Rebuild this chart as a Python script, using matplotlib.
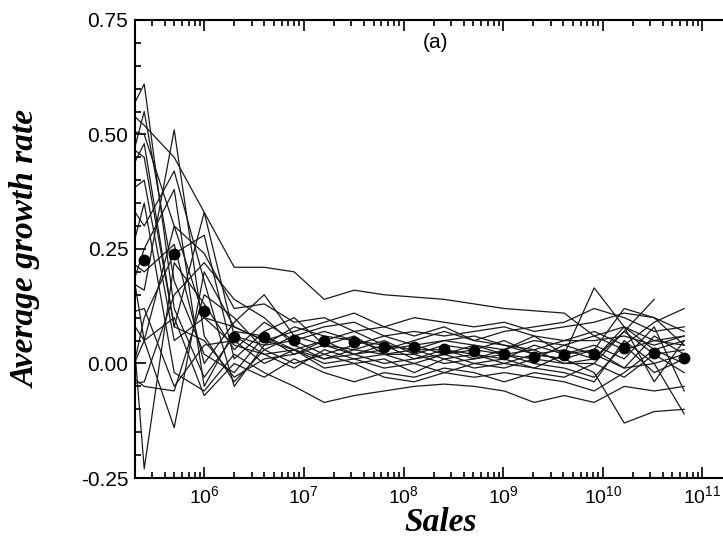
import numpy as np
import matplotlib
matplotlib.use("Agg")
import matplotlib.pyplot as plt
from matplotlib.ticker import LogLocator, MultipleLocator, NullFormatter

plt.rcParams['mathtext.fontset'] = 'custom'
plt.rcParams['mathtext.rm'] = 'Liberation Sans'
plt.rcParams['mathtext.it'] = 'Liberation Sans:italic'
plt.rcParams['mathtext.bf'] = 'Liberation Sans:bold'

# bin centres: sales doubling each bin, starting one bin left of the axis
sales_bins = 2.5e5 * 2.0 ** np.arange(-1, 19)

# average growth rate over all years (filled dots), bins 0..18
avg_sales = 2.5e5 * 2.0 ** np.arange(0, 19)
avg_growth = [0.225, 0.24, 0.114, 0.058, 0.058, 0.052, 0.048, 0.046, 0.037, 0.035,
              0.031, 0.028, 0.020, 0.015, 0.018, 0.020, 0.033, 0.022, 0.011]

# individual yearly curves (thin lines), one value per sales bin
years = [
    [0.48, 0.61, 0.12, -0.03, 0.06, 0.04, 0.05, 0.07, 0.05, 0.04, 0.03, 0.05, 0.04, 0.03, 0.05, 0.04, 0.06, 0.03, 0.05, 0.04],
    [0.60, -0.23, 0.22, 0.13, 0.03, 0.09, 0.05, 0.02, 0.04, 0.06, 0.04, 0.02, 0.03, 0.05, 0.02, 0.03, 0.01, 0.07, 0.02, 0.03],
    [0.20, 0.16, 0.51, 0.06, -0.04, 0.03, 0.06, 0.04, 0.02, 0.03, 0.05, 0.07, 0.05, 0.04, 0.02, 0.01, 0.03, -0.01, 0.06, 0.02],
    [0.58, 0.52, 0.45, 0.33, 0.21, 0.21, 0.20, 0.14, 0.16, 0.15, 0.145, 0.14, 0.13, 0.12, 0.115, 0.11, 0.06, 0.08, 0.05, 0.06],
    [0.10, 0.35, -0.02, -0.06, 0.02, -0.02, -0.05, -0.085, -0.07, -0.06, -0.05, -0.045, -0.05, -0.06, -0.085, -0.07, -0.085, -0.05, -0.06, -0.05],
    [0.35, 0.40, 0.05, 0.10, 0.04, 0.02, 0.03, 0.01, 0.02, 0.00, 0.01, 0.03, 0.02, 0.01, 0.04, 0.02, 0.165, 0.08, 0.03, 0.05],
    [0.05, 0.25, 0.38, -0.05, 0.07, 0.06, 0.02, 0.04, 0.03, 0.02, 0.03, 0.01, 0.02, 0.00, 0.02, 0.01, -0.02, -0.13, -0.105, -0.10],
    [-0.10, 0.05, -0.14, 0.20, 0.08, 0.05, 0.03, 0.00, 0.01, -0.01, 0.00, 0.02, 0.00, -0.01, 0.01, 0.00, 0.00, 0.07, 0.14, np.nan],
    [0.40, 0.30, 0.42, 0.18, -0.05, 0.04, 0.08, 0.06, 0.05, 0.03, 0.04, 0.05, 0.06, 0.04, 0.03, 0.05, 0.05, 0.06, 0.04, 0.06],
    [0.52, 0.50, 0.30, 0.24, 0.12, 0.13, 0.09, 0.10, 0.07, 0.08, 0.10, 0.09, 0.08, 0.09, 0.07, 0.08, 0.09, 0.11, 0.10, 0.07],
    [0.15, 0.05, 0.10, -0.07, 0.00, -0.03, 0.01, -0.02, -0.04, -0.02, -0.03, -0.01, -0.02, -0.04, -0.02, -0.03, 0.00, -0.03, 0.02, -0.02],
    [0.30, 0.55, 0.18, 0.02, -0.02, 0.06, 0.03, 0.05, 0.02, 0.04, 0.01, 0.02, 0.04, 0.02, 0.00, -0.01, -0.03, 0.04, -0.02, 0.01],
    [-0.20, 0.10, 0.24, 0.28, 0.01, 0.07, 0.10, 0.04, 0.06, 0.02, 0.02, 0.00, 0.01, 0.03, 0.06, 0.02, 0.04, 0.01, 0.08, -0.06],
    [0.00, -0.05, -0.06, 0.15, 0.10, 0.03, 0.00, 0.02, 0.00, 0.01, -0.02, 0.01, -0.01, 0.00, -0.01, -0.02, -0.04, 0.05, 0.00, -0.11],
    [0.50, 0.45, 0.08, 0.33, 0.06, 0.02, -0.01, 0.03, 0.01, 0.02, 0.00, -0.02, 0.00, 0.01, -0.01, 0.02, 0.03, 0.12, 0.10, 0.04],
    [0.25, 0.20, 0.26, 0.00, 0.09, 0.15, 0.06, 0.08, 0.09, 0.06, 0.07, 0.06, 0.07, 0.08, 0.06, 0.05, 0.07, 0.04, 0.09, 0.12],
    [-0.05, -0.04, 0.15, 0.22, 0.14, 0.10, 0.04, 0.01, 0.03, 0.05, 0.02, 0.04, 0.03, 0.02, 0.01, 0.04, 0.02, -0.01, 0.00, 0.02],
    [0.35, 0.48, 0.08, 0.05, -0.03, 0.01, 0.02, 0.05, 0.07, 0.04, 0.03, 0.03, 0.01, 0.02, 0.03, 0.00, 0.01, 0.08, -0.04, 0.05],
    [0.10, 0.12, -0.05, 0.04, 0.05, 0.00, 0.03, -0.01, 0.00, -0.03, -0.04, -0.02, -0.03, -0.02, -0.03, -0.04, -0.06, -0.02, 0.03, 0.00],
    [0.45, 0.05, 0.30, 0.10, 0.08, 0.05, 0.07, 0.09, 0.11, 0.08, 0.06, 0.08, 0.05, 0.07, 0.08, 0.09, 0.12, 0.10, 0.07, 0.08],
]
x_ticks = [1e6, 1e7, 1e8, 1e9, 1e10, 1e11]
x_ticklabels = ['$10^{6}$', '$10^{7}$', '$10^{8}$', '$10^{9}$', '$10^{10}$', '$10^{11}$']

fig = plt.figure(figsize=(7.23, 5.38), dpi=100)
# axes run past the right edge of the figure, as in the cropped original
ax = fig.add_axes([0.187, 0.1115, 0.837, 0.8515])

for vals in years:
    ax.plot(sales_bins, vals, color='#1a1a1a', lw=0.9)
ax.plot(avg_sales, avg_growth, 'o', color='black', ms=7.5, zorder=5)

ax.set_xscale('log')
ax.set_xlim(2.03e5, 2.4e11)
ax.set_ylim(-0.25, 0.75)
ax.set_yticks([-0.25, 0.0, 0.25, 0.5, 0.75])
ax.set_yticklabels(['-0.25', '0.00', '0.25', '0.50', '0.75'])
ax.yaxis.set_minor_locator(MultipleLocator(0.05))
ax.set_xticks(x_ticks)
ax.set_xticklabels(x_ticklabels)
ax.xaxis.set_minor_locator(LogLocator(base=10, subs=np.arange(2, 10), numticks=100))
ax.xaxis.set_minor_formatter(NullFormatter())

ax.tick_params(which='both', direction='in', top=True, right=False, width=1.2)
ax.tick_params(which='major', length=8, labelsize=15)
ax.tick_params(axis='x', which='major', labelsize=14, pad=5)
ax.tick_params(axis='y', which='major', pad=5)
ax.tick_params(which='minor', length=4)
for lab in ax.get_xticklabels() + ax.get_yticklabels():
    lab.set_family('Liberation Sans')
for sp in ax.spines.values():
    sp.set_linewidth(1.5)

ax.set_xlabel('Sales', family='Liberation Serif', style='italic', weight='bold', fontsize=24)
ax.set_ylabel('Average growth rate', family='Liberation Serif', style='italic', weight='bold', fontsize=24)
ax.xaxis.set_label_coords((440 - 135) / 605, -0.064)
ax.yaxis.set_label_coords(-0.155, 0.5)
ax.text((435 - 135) / 605, 0.95, '(a)', transform=ax.transAxes, fontsize=15,
        family='Liberation Sans', ha='center', va='center')

fig.savefig('out.png', dpi=100)
